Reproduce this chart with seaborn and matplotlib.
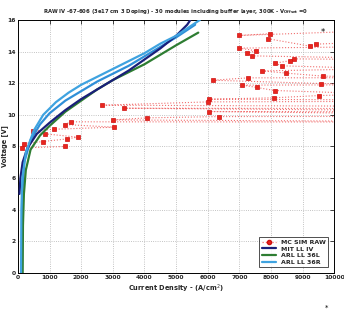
import numpy as np
import pandas as pd
import matplotlib
matplotlib.use("Agg")
import matplotlib.pyplot as plt
import seaborn as sns
from matplotlib.lines import Line2D

# ---------------- data ----------------
# MC SIM RAW (sequence order; points at 11000 lie beyond the axis edge)
mc_j = [11000, 6991, 7953, 7911, 9216, 9414, 11000,
        11000, 6991, 7533, 7231, 7408, 11000,
        11000, 8715, 8589, 8129, 8339, 11000,
        11000, 7722, 8474, 9634, 11000,
        11000, 7283, 6155, 9592, 11000,
        11000, 7095, 7555, 8109, 11000,
        11000, 9509, 8098, 6040, 11000,
        11000, 6008, 2655, 11000,
        11000, 3354, 11000,
        11000, 6029, 11000,
        11000, 6353, 4075, 2999, 11000,
        11000, 1682, 1473, 3051, 1128, 491, 856, 1891, 1557, 784, 178, 115, 1473]
mc_v = [15.3, 15.02, 15.13, 14.81, 14.35, 14.47, 14.6,
        14.3, 14.22, 14.05, 13.90, 13.73, 13.6,
        13.5, 13.54, 13.42, 13.27, 13.10, 12.95,
        12.9, 12.78, 12.64, 12.45, 12.4,
        12.35, 12.34, 12.19, 11.98, 11.95,
        11.9, 11.88, 11.73, 11.54, 11.35,
        11.3, 11.22, 11.08, 10.99, 10.95,
        10.85, 10.82, 10.61, 10.55,
        10.4, 10.42, 10.3,
        10.2, 10.21, 10.1,
        9.9, 9.89, 9.81, 9.68, 9.6,
        9.55, 9.56, 9.39, 9.22, 9.09, 8.99, 8.80, 8.59, 8.48, 8.31, 8.18, 7.91, 8.0]

mit_j = [50, 80, 150, 300, 600, 1000, 1500, 2000, 2500, 3000, 3500, 4000, 4500, 5000, 5350, 5450]
mit_v = [5.0, 6.0, 7.0, 7.9, 8.8, 9.5, 10.3, 11.0, 11.6, 12.2, 12.8, 13.5, 14.2, 15.0, 15.7, 16.0]

arl36l_j = [150, 160, 190, 250, 400, 700, 1000, 1500, 2000, 2500, 3000, 3500, 4000, 4500, 5000, 5700]
arl36l_v = [0.0, 3.0, 5.0, 6.5, 7.8, 8.7, 9.3, 10.2, 10.9, 11.6, 12.2, 12.7, 13.2, 13.8, 14.4, 15.2]

arl36r_j = [100, 110, 140, 250, 500, 800, 1200, 1600, 2000, 2500, 3000, 3500, 4000, 4500, 5000, 5600, 5750]
arl36r_v = [0.0, 4.0, 6.0, 7.6, 9.0, 10.0, 10.8, 11.4, 11.9, 12.4, 12.9, 13.4, 13.9, 14.5, 15.0, 15.8, 16.0]

extra_j = [130, 140, 200, 400, 700, 1000, 1500, 2000, 2500, 3000, 3500, 4000, 4500, 5000, 5600]
extra_v = [0.0, 5.0, 7.0, 8.4, 9.4, 10.1, 10.9, 11.5, 12.1, 12.6, 13.1, 13.7, 14.3, 14.9, 15.7]

xticks = [0, 1000, 2000, 3000, 4000, 5000, 6000, 7000, 8000, 9000, 10000]
yticks = [0, 2, 4, 6, 8, 10, 12, 14, 16]

title = "RAW IV -67-606 (3e17 cm 3 Doping) - 30 modules including buffer layer, 300K - V$_{\\mathregular{Offset}}$ =0"

# ---------------- plot ----------------
sns.set_style("white")
plt.rcParams['font.family'] = ['DejaVu Sans']

fig = plt.figure(figsize=(3.44, 3.12), dpi=100)
ax = fig.add_axes([0.052, 0.125, 0.920, 0.811])

curves = pd.concat([
    pd.DataFrame({"J": extra_j, "V": extra_v, "s": "extra"}),
    pd.DataFrame({"J": arl36l_j, "V": arl36l_v, "s": "ARL LL 36L"}),
    pd.DataFrame({"J": mit_j, "V": mit_v, "s": "MIT LL IV"}),
    pd.DataFrame({"J": arl36r_j, "V": arl36r_v, "s": "ARL LL 36R"}),
])
pal = {"extra": "#2f8fd8", "ARL LL 36L": "#2e7d32", "MIT LL IV": "#1a1f7a", "ARL LL 36R": "#3fa3e0"}

mc = pd.DataFrame({"J": mc_j, "V": mc_v})
sns.lineplot(data=mc, x="J", y="V", sort=False, estimator=None, ax=ax,
             color="#f07070", linestyle=":", linewidth=0.8, marker="s",
             markersize=3.2, markerfacecolor="#e8261e", markeredgecolor="#d01010",
             markeredgewidth=0.5, legend=False, zorder=2)

sns.lineplot(data=curves, x="J", y="V", hue="s", palette=pal, sort=False,
             estimator=None, ax=ax, linewidth=1.6, legend=False, zorder=3)

ax.set_xlim(0, 10000)
ax.set_ylim(0, 16)
ax.set_xticks(xticks)
ax.set_yticks(yticks)
ax.set_xticklabels([str(t) for t in xticks], fontsize=4.3, fontweight="bold")
ax.set_yticklabels([str(t) for t in yticks], fontsize=4.3, fontweight="bold")
ax.tick_params(direction="in", length=3, width=0.6, top=True, right=True, pad=1.5)
ax.grid(True, linestyle=":", color="#b0b0b0", linewidth=0.6)
for sp in ax.spines.values():
    sp.set_linewidth(0.7)
    sp.set_color("black")

ax.set_xlabel("Current Density - (A/cm$^2$)", fontsize=4.8, fontweight="bold", labelpad=2)
ax.set_ylabel("Voltage [V]", fontsize=4.8, fontweight="bold")
ax.yaxis.set_label_coords(-0.032, 0.5)
ax.set_title(title, fontsize=3.8, fontweight="bold", pad=5)

handles = [
    Line2D([], [], color="#f07070", linestyle=":", marker="o", markersize=3,
           markerfacecolor="#e8261e", markeredgecolor="#d01010", linewidth=0.9),
    Line2D([], [], color=pal["MIT LL IV"], linewidth=1.6),
    Line2D([], [], color=pal["ARL LL 36L"], linewidth=1.6),
    Line2D([], [], color=pal["ARL LL 36R"], linewidth=1.6),
]
labels = ["MC SIM RAW", "MIT LL IV", "ARL LL 36L", "ARL LL 36R"]
leg = ax.legend(handles, labels, loc="lower right", fontsize=4.5, frameon=True,
                fancybox=False, edgecolor="black", handlelength=2.2,
                borderpad=0.4, labelspacing=0.2, bbox_to_anchor=(0.99, 0.01))
leg.get_frame().set_linewidth(0.6)
for t in leg.get_texts():
    t.set_fontweight("bold")

ax.text(9650, 15.2, "*", fontsize=6, color="black", ha="center", va="center")
fig.text(0.95, 0.015, "*", fontsize=5, color="black", ha="center", va="center")

fig.savefig("out.png", dpi=100)
